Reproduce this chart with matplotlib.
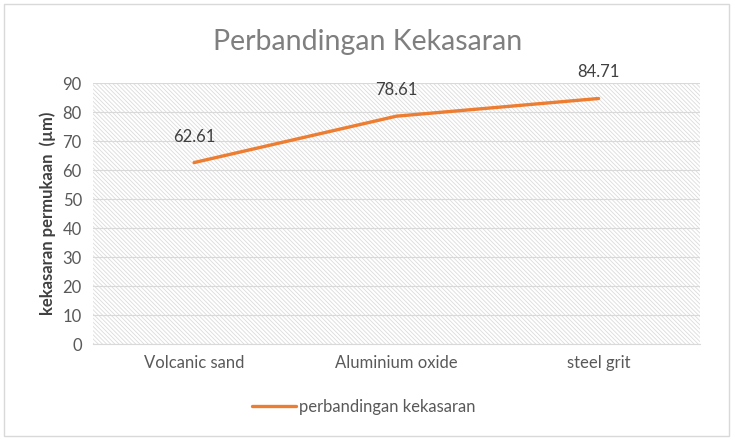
import matplotlib.pyplot as plt
from matplotlib.patches import Rectangle

plt.rcParams['font.family'] = ['Lato', 'DejaVu Sans']
plt.rcParams['hatch.color'] = '#dcdcdc'
plt.rcParams['hatch.linewidth'] = 0.6

categories = ['Volcanic sand', 'Aluminium oxide', 'steel grit']
roughness = [62.61, 78.61, 84.71]
yticks = [0, 10, 20, 30, 40, 50, 60, 70, 80, 90]

fig = plt.figure(figsize=(7.35, 4.4), dpi=100)
ax = fig.add_axes([0.1265, 0.218, 0.8255, 0.593])

# outer chart border
fig.patches.append(Rectangle((0.006, 0.008), 0.986, 0.984, transform=fig.transFigure,
                             fill=False, edgecolor='#d9d9d9', linewidth=1))

# hatched plot area
ax.add_patch(Rectangle((0, 0), 1, 1, transform=ax.transAxes, facecolor='white',
                       edgecolor='#dcdcdc', hatch='\\' * 8, linewidth=0, zorder=0))

x = range(len(categories))
ax.plot(x, roughness, color='#ED7D31', linewidth=2.4, solid_capstyle='round',
        label='perbandingan kekasaran', zorder=3)
for xi, v in zip(x, roughness):
    ax.annotate(f'{v:.2f}', (xi, v), xytext=(0, 13), textcoords='offset points',
                ha='center', va='bottom', fontsize=12, color='#404040')

ax.set_xlim(-0.5, len(categories) - 0.5)
ax.set_ylim(0, 90)
ax.set_yticks(yticks)
ax.set_xticks(list(x))
ax.set_xticklabels(categories)
ax.grid(axis='y', color='#d9d9d9', linewidth=0.8, zorder=1)
ax.set_axisbelow(True)
ax.tick_params(length=0, labelsize=12, labelcolor='#595959', pad=8)
for s in ['top', 'right', 'left']:
    ax.spines[s].set_visible(False)
ax.spines['bottom'].set_color('#d9d9d9')

ax.set_ylabel('kekasaran permukaan  (µm)', fontsize=12, fontweight='bold',
              color='#404040', labelpad=5)
fig.text(0.5, 0.905, 'Perbandingan Kekasaran', ha='center', va='center',
         fontsize=20.5, color='#7f7f7f')

fig.legend(loc='center', bbox_to_anchor=(0.495, 0.075), frameon=False,
           fontsize=12, labelcolor='#595959', handlelength=2.6, handletextpad=0.2)

fig.savefig('out.png', dpi=100)
